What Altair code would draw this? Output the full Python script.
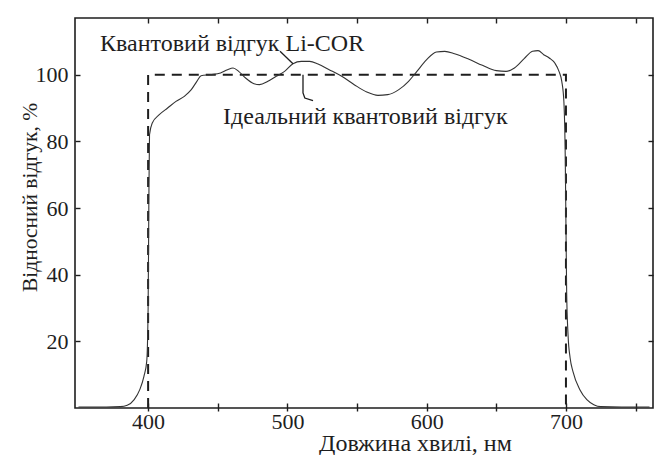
import altair as alt
import pandas as pd

# Li-COR quantum response (wavelength nm, relative response %)
licor_wl = [350, 370, 380, 385, 390, 394, 397, 399, 400, 400.5, 401, 403, 408, 414, 420, 426, 431, 435, 438,
            445, 452, 457, 461, 465, 470, 476, 480, 486, 492, 498, 504, 510, 516, 522, 530, 539, 548, 557,
            565, 572, 580, 587, 593, 600, 607, 613, 620, 630, 640, 650, 657, 663, 670, 676, 680, 684, 688,
            692, 695, 697, 698.5, 699.5, 700, 700.5, 701.5, 703, 705, 710, 715, 720, 725, 740, 760]
licor_val = [0.3, 0.3, 0.4, 0.8, 2.5, 5.5, 9.5, 14, 30, 60, 82, 85.5, 88, 90, 92, 93.5, 95.5, 98, 99.7,
             100, 100.5, 101.5, 102, 101, 99, 97.3, 97, 98, 99.5, 101, 103.3, 104, 104, 103.2, 101.5, 99.5, 97, 94.8,
             93.8, 94, 95.5, 98, 101, 104.5, 106.8, 107, 106.3, 104.7, 102.8, 101.2, 101, 102, 104.8, 107, 107.2, 106, 105,
             103.5, 101, 98, 92, 75, 55, 35, 22, 15, 11, 5.5, 2.5, 1, 0.4, 0.3, 0.3]

# Ideal quantum response
ideal_wl = [400, 400, 700, 700]
ideal_val = [0, 100, 100, 0]

# Annotations
ann_text = ["Квантовий відгук Li-COR", "Ідеальний квантовий відгук"]
ann_wl = [365.5, 453.8]
ann_val = [109.3, 87.3]

# Leader lines
lead1_wl = [494.7, 504]
lead1_val = [107, 103.3]
lead2_wl = [511.2, 511.2, 512.5, 518.4]
lead2_val = [100, 94.5, 93, 92.2]

x_ticks = [400, 450, 500, 550, 600, 650, 700, 750]
y_ticks = [20, 40, 60, 80, 100]

FONT = "Liberation Serif"
INK = "#1e1e1e"

df_licor = pd.DataFrame({"wl": licor_wl, "val": licor_val, "o": list(range(len(licor_wl)))})
df_ideal = pd.DataFrame({"wl": ideal_wl, "val": ideal_val, "o": list(range(len(ideal_wl)))})
df_ann = pd.DataFrame({"wl": ann_wl, "val": ann_val, "t": ann_text})
df_lead = pd.DataFrame({
    "wl": lead1_wl + lead2_wl,
    "val": lead1_val + lead2_val,
    "g": ["a"] * len(lead1_wl) + ["b"] * len(lead2_wl),
    "o": list(range(len(lead1_wl))) + list(range(len(lead2_wl))),
})

xs = alt.Scale(domain=[347.5, 762.5], nice=False, zero=False)
ys = alt.Scale(domain=[0, 117], nice=False, zero=False)

ideal = alt.Chart(df_ideal).mark_line(strokeDash=[10, 7], strokeWidth=2, color=INK).encode(
    x=alt.X("wl:Q", scale=xs, axis=alt.Axis(
        orient="bottom", values=x_ticks, offset=-5, tickSize=8, domain=False, grid=False,
        labelExpr="datum.value % 100 == 0 ? datum.label : ''", labelPadding=0,
        title="Довжина хвилі, нм", titleX=340, titleY=40, titleAnchor="middle",
        titleBaseline="middle", titleAlign="center", titleFontSize=24)),
    y=alt.Y("val:Q", scale=ys, axis=alt.Axis(
        orient="left", values=y_ticks, offset=-5, tickSize=5, domain=False, grid=False,
        labelPadding=7, title="Відносний відгук, %", titleX=-50, titleY=179,
        titleAngle=-90, titleBaseline="middle", titleAlign="center", titleFontSize=21.5)),
    order="o:Q",
)

curve = alt.Chart(df_licor).mark_line(strokeWidth=1.1, color="#333333", interpolate="monotone").encode(
    x=alt.X("wl:Q", scale=xs, axis=alt.Axis(
        orient="top", values=x_ticks, offset=-5, tickSize=5, domain=False, grid=False,
        labels=False, title=None)),
    y=alt.Y("val:Q", scale=ys, axis=alt.Axis(
        orient="right", values=y_ticks, offset=-5, tickSize=5, domain=False, grid=False,
        labels=False, title=None)),
    order="o:Q",
)

leads = alt.Chart(df_lead).mark_line(strokeWidth=1.3, color=INK).encode(
    x=alt.X("wl:Q", scale=xs, axis=None),
    y=alt.Y("val:Q", scale=ys, axis=None),
    detail="g:N",
    order="o:Q",
)

texts = alt.Chart(df_ann).mark_text(
    font=FONT, fontSize=24, color=INK, align="left", baseline="middle"
).encode(
    x=alt.X("wl:Q", scale=xs, axis=None),
    y=alt.Y("val:Q", scale=ys, axis=None),
    text="t:N",
)

chart = alt.layer(ideal, curve, leads, texts).resolve_axis(
    x="independent", y="independent"
).properties(
    width=578, height=390,
    autosize=alt.AutoSizeParams(type="none"),
    padding={"left": 67, "top": 10, "right": 1, "bottom": 47},
    background="white",
).configure_view(
    stroke=INK, strokeWidth=1.6
).configure_axis(
    labelFont=FONT, labelFontSize=22, labelColor=INK,
    titleFont=FONT, titleFontSize=21, titleColor=INK, titleFontWeight="normal",
    tickColor=INK, tickWidth=1.4,
)

chart.save("out.html", embed_options={"renderer": "svg", "actions": False})
